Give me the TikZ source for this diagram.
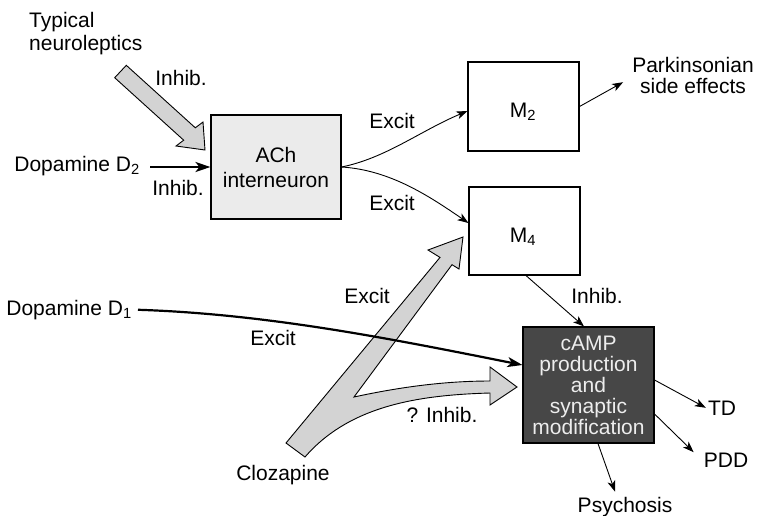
\documentclass[tikz,border=0pt]{standalone}
\usepackage{fontspec}
\setmainfont{Liberation Sans}
\usetikzlibrary{arrows.meta,calc}

\definecolor{achfill}{HTML}{EBEBEB}
\definecolor{fatgray}{HTML}{D3D3D3}
\definecolor{campfill}{HTML}{474747}
\definecolor{camptext}{HTML}{EDEDED}

\newcommand\lblsize[1]{\fontsize{21}{#1}\selectfont}

\begin{document}
\begin{tikzpicture}[x=1pt,y=-1pt,
  lbl/.style={inner sep=0pt, anchor=base, font=\lblsize{23}},
  boxnode/.style={draw, line width=1.1pt, inner sep=0pt},
  thinarr/.style={line width=0.9pt, -{Stealth[length=11pt,width=8pt,inset=3pt]}},
  thickarr/.style={line width=2.2pt, -{Stealth[length=15pt,width=10pt,inset=4pt]}},
  fatarrow/.style={draw, line width=0.9pt, fill=fatgray, line join=miter}]
\useasboundingbox (0,0) rectangle (757,515);

% boxes
\node[boxnode, fill=achfill, minimum width=130pt, minimum height=104pt,
      align=center, font=\lblsize{25}] (ach) at (276,167) {ACh\\interneuron};
\node[boxnode, minimum width=111pt, minimum height=89pt] (m2) at (523.5,106.5) {};
\node[boxnode, minimum width=111pt, minimum height=88pt] (m4) at (524.5,231) {};
\node[boxnode, fill=campfill, text=camptext, minimum width=131pt, minimum height=116pt,
      align=center, font=\lblsize{21}] (camp) at (588.5,385)
      {cAMP\\production\\and\\synaptic\\modification};
\node[lbl] (m2lab) at (523,117) {M\textsubscript{2}};
\node[lbl] (m4lab) at (523,242) {M\textsubscript{4}};

% text labels
\node[inner sep=0pt, anchor=west, align=left, font=\lblsize{23}] (typ) at (29,33.3)
      {Typical\\neuroleptics};
\node[lbl] (inh1) at (181,85) {Inhib.};
\node[lbl, anchor=base east] (d2) at (140,171) {Dopamine D\textsubscript{2}};
\node[lbl] (inh2) at (178,195) {Inhib.};
\node[lbl] (ex1) at (392,128) {Excit};
\node[lbl] (ex2) at (392,210) {Excit};
\node[inner sep=0pt, align=center, font=\lblsize{21}] (park) at (693,75.2)
      {Parkinsonian\\side effects};
\node[lbl] (ex3) at (367,303) {Excit};
\node[lbl, anchor=base east] (d1) at (132,315) {Dopamine D\textsubscript{1}};
\node[lbl] (ex4) at (273,345) {Excit};
\node[lbl] (qinh) at (442,422) {? Inhib.};
\node[lbl] (cloz) at (283,480) {Clozapine};
\node[lbl] (inh3) at (597,303) {Inhib.};
\node[lbl] (td) at (722,415) {TD};
\node[lbl] (pdd) at (726,467) {PDD};
\node[lbl] (psy) at (625,512) {Psychosis};

% wide grey arrow of the typical neuroleptics
\draw[fatarrow] (114.7,77.7) -- (183.7,140.2) -- (176,146) -- (205,150)
  -- (203,122) -- (195.3,127.8) -- (126.3,65.3) -- cycle;

% forked grey arrow of clozapine
\draw[fatarrow] (286,443) -- (440,257.4) -- (428,250) -- (463,237) -- (459,269)
  -- (452,264.7) -- (354,397) .. controls (400,387) and (445,381) .. (490,381)
  -- (490,367) -- (517,387) -- (490,405) -- (490,393)
  .. controls (420,395) and (350,405) .. (305,457) -- cycle;

% connectors
\draw[thickarr, shorten <=10pt] (d2.east |- ach.west) -- (ach.west);
\draw[thinarr] (ach.east) .. controls (386,158) and (420,131) .. ($(m2.west)+(0,4.5)$);
\draw[thinarr] (ach.east) .. controls (390,170) and (429,196) .. ($(m4.west)+(0,-8)$);
\draw[thinarr] (m2.east) -- ($(park.west)+(-9,7)$);
\draw[thickarr, shorten <=6pt] (d1.east) .. controls (268,314) and (392,339) .. ($(camp.west)+(0,-20)$);
\draw[thinarr] ($(m4.south)+(1.5,0)$) -- ($(camp.north)+(-4.5,0)$);
\draw[thinarr] ($(camp.east)+(0,-5)$) -- ($(td.west)+(-2,0)$);
\draw[thinarr] ($(camp.east)+(0,29)$) -- ($(pdd.west)+(-10,-7.6)$);
\draw[thinarr] ($(camp.south)+(9.5,0)$) -- ($(psy.north)+(-10,-5)$);
\end{tikzpicture}
\end{document}
